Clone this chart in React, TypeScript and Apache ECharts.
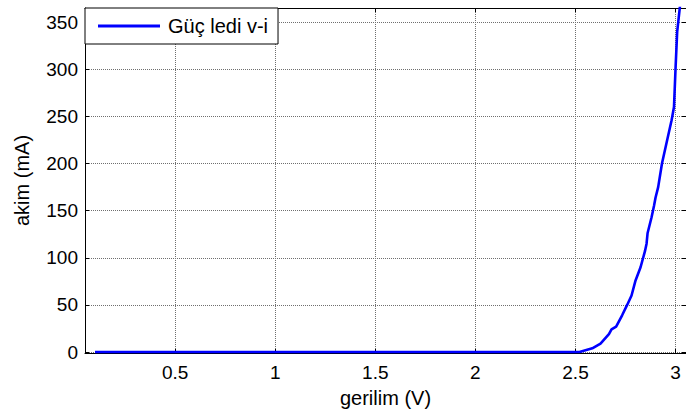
import React, { useEffect, useRef } from "react";
import * as echarts from "echarts";

const voltage: number[] = [0.1, 0.5, 1.0, 1.5, 2.0, 2.5, 2.52, 2.584, 2.625, 2.667, 2.68, 2.703, 2.733, 2.758, 2.78, 2.8, 2.825, 2.847, 2.855, 2.86, 2.88, 2.892, 2.9, 2.913, 2.932, 2.958, 2.98, 2.992, 3.0, 3.008, 3.025];
const current: number[] = [0, 0, 0, 0, 0, 0, 0, 4, 9, 19, 24, 27, 39, 50, 60, 76, 90, 107, 115, 126, 143, 155, 164, 175, 200, 225, 246, 260, 302, 340, 373];
const seriesName = "Güç ledi v-i";
const xName = "gerilim (V)";
const yName = "akim (mA)";

const FONT = "'Liberation Sans', Arial, sans-serif";

export default function App() {
  const ref = useRef<HTMLDivElement>(null);
  useEffect(() => {
    if (!ref.current) return;
    const chart = echarts.init(ref.current, undefined, { renderer: "svg" });
    const data = voltage.map((v, i) => [v, current[i]]);
    const xMin = 0.05, xMax = 3.052, yMin = -1, yMax = 365;
    const gridLine = { show: true, lineStyle: { color: "#6f6f6f", type: [1, 1] as any, width: 1 } };
    const axisLine = { show: true, onZero: false, lineStyle: { color: "#000", width: 1 } };
    const tick = { show: true, inside: true, length: 4, lineStyle: { color: "#000" } };
    chart.setOption({
      animation: false,
      backgroundColor: "#fff",
      textStyle: { fontFamily: FONT },
      grid: { left: 85, right: -1, top: 8, bottom: 62 },
      legend: {
        show: true,
        left: 85,
        top: 8,
        orient: "vertical",
        data: [seriesName],
        icon: "rect",
        itemWidth: 62,
        itemHeight: 3,
        itemGap: 0,
        padding: [8, 10, 8, 13],
        borderColor: "#000",
        borderWidth: 1,
        backgroundColor: "#fff",
        textStyle: { fontSize: 20, color: "#000", fontFamily: FONT, padding: [0, 0, 0, 3] },
        z: 10,
      },
      xAxis: [
        {
          type: "value",
          min: xMin,
          max: xMax,
          splitNumber: 6,
          name: xName,
          nameLocation: "middle",
          nameGap: 35,
          nameTextStyle: { fontSize: 20, color: "#000", fontFamily: FONT },
          axisLine,
          axisTick: tick,
          splitLine: gridLine,
          axisLabel: { fontSize: 19, color: "#000", fontFamily: FONT, margin: 10, showMinLabel: false, showMaxLabel: false },
        },
        {
          type: "value",
          position: "top",
          min: xMin,
          max: xMax,
          splitNumber: 6,
          axisLine,
          axisTick: tick,
          splitLine: { show: false },
          axisLabel: { show: false },
        },
      ],
      yAxis: [
        {
          type: "value",
          min: yMin,
          max: yMax,
          splitNumber: 7,
          name: yName,
          nameLocation: "middle",
          nameGap: 53,
          nameTextStyle: { fontSize: 20, color: "#000", fontFamily: FONT },
          axisLine,
          axisTick: tick,
          splitLine: gridLine,
          axisLabel: { fontSize: 19, color: "#000", fontFamily: FONT, margin: 7, showMinLabel: false, showMaxLabel: false },
        },
        {
          type: "value",
          position: "right",
          min: yMin,
          max: yMax,
          splitNumber: 7,
          axisLine,
          axisTick: tick,
          splitLine: { show: false },
          axisLabel: { show: false },
        },
      ],
      series: [
        {
          name: seriesName,
          type: "line",
          data,
          xAxisIndex: 0,
          yAxisIndex: 0,
          showSymbol: false,
          symbol: "none",
          lineStyle: { color: "#0000ff", width: 2.6 },
          itemStyle: { color: "#0000ff" },
        },
      ],
    });
    return () => chart.dispose();
  }, []);
  return (
    <div
      ref={ref}
      style={{ position: "fixed", left: 0, top: 0, width: 686, height: 415, background: "#fff" }}
    />
  );
}
